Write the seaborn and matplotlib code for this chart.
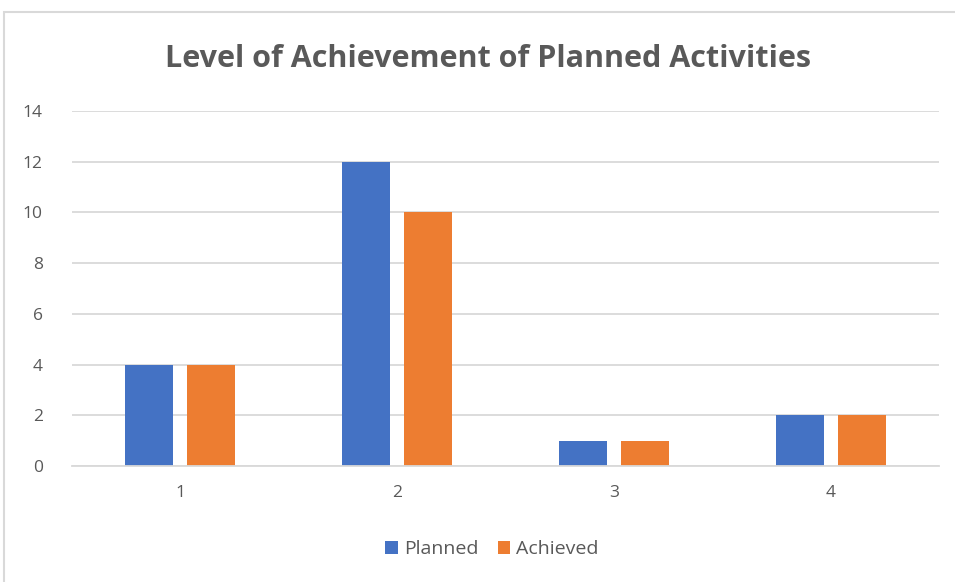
import matplotlib
matplotlib.use("Agg")
import matplotlib.pyplot as plt
import seaborn as sns
import pandas as pd
from matplotlib.patches import Rectangle, Patch

categories = ["1", "2", "3", "4"]
planned = [4, 12, 1, 2]
achieved = [4, 10, 1, 2]
series_names = ["Planned", "Achieved"]
yticks = [0, 2, 4, 6, 8, 10, 12, 14]

df = pd.DataFrame({
    "cat": categories * 2,
    "value": planned + achieved,
    "series": [series_names[0]] * 4 + [series_names[1]] * 4,
})

sns.set_theme(style="white")
plt.rcParams["font.family"] = ["Open Sans", "DejaVu Sans"]

colors = ["#4472C4", "#ED7D31"]
fig = plt.figure(figsize=(9.55, 5.82), dpi=100)
ax = fig.add_axes([72 / 955, 1 - 466 / 582, (939 - 72) / 955, (466 - 111) / 582])

sns.barplot(data=df, x="cat", y="value", hue="series", palette=colors,
            width=0.572, gap=0.226, ax=ax, legend=False, saturation=1,
            linewidth=0, edgecolor="none")

ax.set_ylim(0, 14)
ax.set_yticks(yticks)
ax.set_xlim(-0.5, 3.5)
ax.yaxis.grid(True, color="#D9D9D9", linewidth=1.3)
ax.set_axisbelow(True)
for s in ["top", "right", "left"]:
    ax.spines[s].set_visible(False)
ax.spines["bottom"].set_color("#D9D9D9")
ax.spines["bottom"].set_linewidth(1.3)
ax.tick_params(axis="both", length=0, colors="#595959", labelsize=12.5)
ax.tick_params(axis="y", pad=21)
ax.tick_params(axis="x", pad=14)
ax.set_xlabel("")
ax.set_ylabel("")

fig.text(488 / 955, 1 - 59 / 582, "Level of Achievement of Planned Activities",
         ha="center", va="center", fontsize=22, fontweight="bold", color="#595959")

handles = [Patch(facecolor=c, edgecolor="none") for c in colors]
fig.legend(handles, series_names, loc="center", bbox_to_anchor=(492 / 955, 1 - 549 / 582),
           ncol=2, frameon=False, fontsize=14, handlelength=0.65, handleheight=0.65,
           handletextpad=0.3, columnspacing=1.0, labelcolor="#595959")

fig.patches.append(Rectangle((4 / 955, -0.05), 1.1, 1 - 12 / 582 + 0.05,
                             transform=fig.transFigure, fill=False,
                             edgecolor="#D9D9D9", linewidth=1.5))

fig.savefig("out.png", dpi=100, facecolor="white")
